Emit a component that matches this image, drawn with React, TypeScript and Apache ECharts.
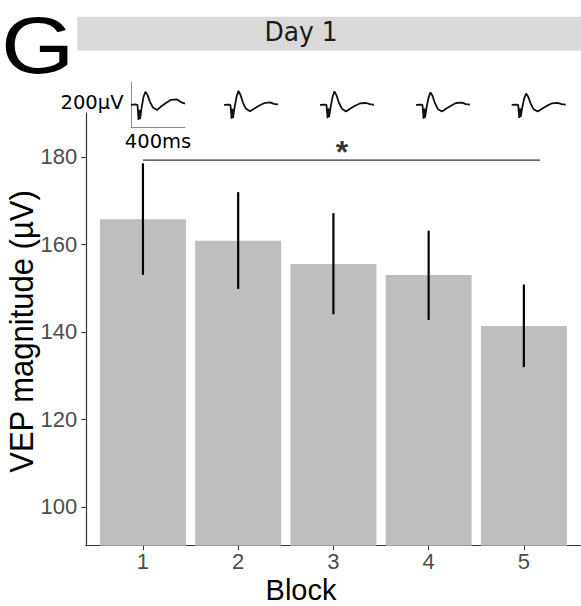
import React, { useEffect, useRef } from "react";
import * as echarts from "echarts";

// ---- data ----
const blocks = [1, 2, 3, 4, 5];
const vepMean = [165.7, 160.8, 155.5, 153.0, 141.3];
const errLow = [153.0, 149.8, 144.0, 142.7, 131.9];
const errHigh = [178.5, 171.9, 167.1, 163.1, 150.8];
const yTicks = [100, 120, 140, 160, 180];
const xTicks = [1, 2, 3, 4, 5];
const bracketX = [1, 5.17];
const bracketY = 179.25;
const starPos = [3.09, 181.2];

// grand-average VEP traces (time in ms, amplitude in µV), one per block
const waveTimeMs = [0, 30, 48, 56, 61, 67, 78, 93, 107, 122, 141, 163, 193, 222, 259, 296, 341, 370, 400];
const waveBlock1 = [0, 2, 0, -67, -22, -62, -15, 36, 58, 44, 12, -12, -23, -8, 8, 22, 24, 12, 5];
const waveBlock2 = [0, 1, 0, -62, -18, -58, -13, 36, 62, 44, 9, -18, -29, -18, -4, 7, 11, 4, 2];
const waveBlock3 = [0, 1, 0, -60, -16, -55, -12, 35, 60, 42, 8, -18, -30, -18, -4, 6, 8, 3, 0];
const waveBlock4 = [0, 1, 0, -62, -17, -57, -12, 32, 55, 40, 6, -20, -30, -18, -4, 8, 10, 3, 1];
const waveBlock5 = [0, 1, 0, -58, -16, -54, -12, 30, 50, 36, 5, -20, -30, -19, -5, 6, 9, 3, 1];
const waves = [waveBlock1, waveBlock2, waveBlock3, waveBlock4, waveBlock5];
const waveLefts = [131, 224, 320, 416, 511.7];

const SANS = "'Liberation Sans', Arial, sans-serif";
const DEJAVU = "'DejaVu Sans', Verdana, sans-serif";

export default function App() {
  const ref = useRef<HTMLDivElement>(null);

  useEffect(() => {
    document.body.style.margin = "0";
    if (!ref.current) return;
    const chart = echarts.init(ref.current, undefined, { renderer: "svg" });

    const grids: any[] = [
      { left: 85.8, right: -3.2, top: 113, bottom: 60.3, containLabel: false },
    ];
    const xAxes: any[] = [
      {
        type: "value",
        gridIndex: 0,
        min: 0.4,
        max: 5.6,
        splitLine: { show: false },
        axisLine: { show: true, onZero: false, lineStyle: { color: "#333333", width: 1.2 } },
        axisTick: { show: true, length: 4.5, customValues: xTicks, lineStyle: { color: "#333333", width: 1.1 } },
        axisLabel: { show: true, customValues: xTicks, margin: 5, color: "#4d4d4d", fontSize: 22, fontFamily: SANS },
      },
    ];
    const yAxes: any[] = [
      {
        type: "value",
        gridIndex: 0,
        min: 91.1,
        max: 190,
        splitLine: { show: false },
        axisLine: { show: true, onZero: false, lineStyle: { color: "#333333", width: 1.2 } },
        axisTick: { show: true, length: 4.5, customValues: yTicks, lineStyle: { color: "#333333", width: 1.1 } },
        axisLabel: { show: true, customValues: yTicks, margin: 8.5, color: "#4d4d4d", fontSize: 22, fontFamily: SANS },
      },
    ];
    const waveSeries: any[] = [];
    waves.forEach((w, i) => {
      grids.push({ left: waveLefts[i], width: 54, top: 82.3, height: 45 });
      const isFirst = i === 0;
      xAxes.push({
        type: "value",
        gridIndex: i + 1,
        min: 0,
        max: 400,
        show: isFirst,
        splitLine: { show: false },
        axisLine: { show: isFirst, onZero: false, lineStyle: { color: "#8c8c8c", width: 1 } },
        axisTick: { show: false },
        axisLabel: { show: false },
      });
      yAxes.push({
        type: "value",
        gridIndex: i + 1,
        min: -100,
        max: 100,
        show: isFirst,
        splitLine: { show: false },
        axisLine: { show: isFirst, onZero: false, lineStyle: { color: "#8c8c8c", width: 1 } },
        axisTick: { show: false },
        axisLabel: { show: false },
      });
      waveSeries.push({
        type: "line",
        xAxisIndex: i + 1,
        yAxisIndex: i + 1,
        data: waveTimeMs.map((t, k) => [t, w[k]]),
        showSymbol: false,
        symbol: "none",
        silent: true,
        lineStyle: { color: "#111111", width: 1.8 },
      });
    });

    const option: any = {
      animation: false,
      backgroundColor: "#ffffff",
      grid: grids,
      xAxis: xAxes,
      yAxis: yAxes,
      series: [
        {
          type: "bar",
          xAxisIndex: 0,
          yAxisIndex: 0,
          data: blocks.map((b, i) => [b, vepMean[i]]),
          barWidth: 86,
          itemStyle: { color: "#bebebe" },
          silent: true,
        },
        {
          type: "custom",
          xAxisIndex: 0,
          yAxisIndex: 0,
          data: blocks.map((b, i) => [b, errLow[i], errHigh[i]]),
          renderItem: (params: any, api: any) => {
            const lo = api.coord([api.value(0), api.value(1)]);
            const hi = api.coord([api.value(0), api.value(2)]);
            return {
              type: "line",
              shape: { x1: lo[0], y1: lo[1], x2: hi[0], y2: hi[1] },
              style: { stroke: "#000000", lineWidth: 2.2 },
            };
          },
          silent: true,
          z: 5,
        },
        {
          type: "line",
          xAxisIndex: 0,
          yAxisIndex: 0,
          data: bracketX.map((x) => [x, bracketY]),
          showSymbol: false,
          symbol: "none",
          lineStyle: { color: "#333333", width: 1.3 },
          silent: true,
          z: 6,
        },
        {
          type: "scatter",
          xAxisIndex: 0,
          yAxisIndex: 0,
          data: [starPos],
          symbolSize: 0,
          label: {
            show: true,
            position: "inside",
            formatter: "*",
            fontSize: 32,
            fontWeight: "bold",
            fontFamily: SANS,
            color: "#000000",
          },
          silent: true,
          z: 7,
        },
        ...waveSeries,
      ],
      graphic: [
        {
          type: "rect",
          shape: { x: 77.3, y: 16.7, width: 510, height: 34 },
          style: { fill: "#d9d9d9" },
          silent: true,
        },
        {
          type: "text",
          x: 301,
          y: 31.7,
          scaleY: 1.08,
          style: { text: "Day 1", fontSize: 25, fontFamily: DEJAVU, fill: "#1a1a1a", align: "center", verticalAlign: "middle", textAlign: "center", textVerticalAlign: "middle" },
        },
        {
          type: "text",
          x: 1,
          y: 46,
          scaleX: 1.18,
          style: { text: "G", fontSize: 80, fontFamily: SANS, fill: "#000000", align: "left", verticalAlign: "middle", textAlign: "left", textVerticalAlign: "middle" },
        },
        {
          type: "text",
          x: 301,
          y: 589.5,
          style: { text: "Block", fontSize: 29, fontFamily: SANS, fill: "#000000", align: "center", verticalAlign: "middle", textAlign: "center", textVerticalAlign: "middle" },
        },
        {
          type: "text",
          x: 21.8,
          y: 331.5,
          rotation: Math.PI / 2,
          scaleY: 1.1,
          style: { text: "VEP magnitude (µV)", fontSize: 31, fontFamily: SANS, fill: "#000000", align: "center", verticalAlign: "middle", textAlign: "center", textVerticalAlign: "middle" },
        },
        {
          type: "text",
          x: 123.5,
          y: 102.5,
          style: { text: "200µV", fontSize: 19.5, fontFamily: DEJAVU, fill: "#000000", align: "right", verticalAlign: "middle", textAlign: "right", textVerticalAlign: "middle" },
        },
        {
          type: "text",
          x: 158,
          y: 141,
          style: { text: "400ms", fontSize: 19.5, fontFamily: DEJAVU, fill: "#000000", align: "center", verticalAlign: "middle", textAlign: "center", textVerticalAlign: "middle" },
        },
      ],
    };

    chart.setOption(option);
    return () => {
      chart.dispose();
    };
  }, []);

  return <div ref={ref} style={{ width: 581, height: 606, overflow: "hidden" }} />;
}
